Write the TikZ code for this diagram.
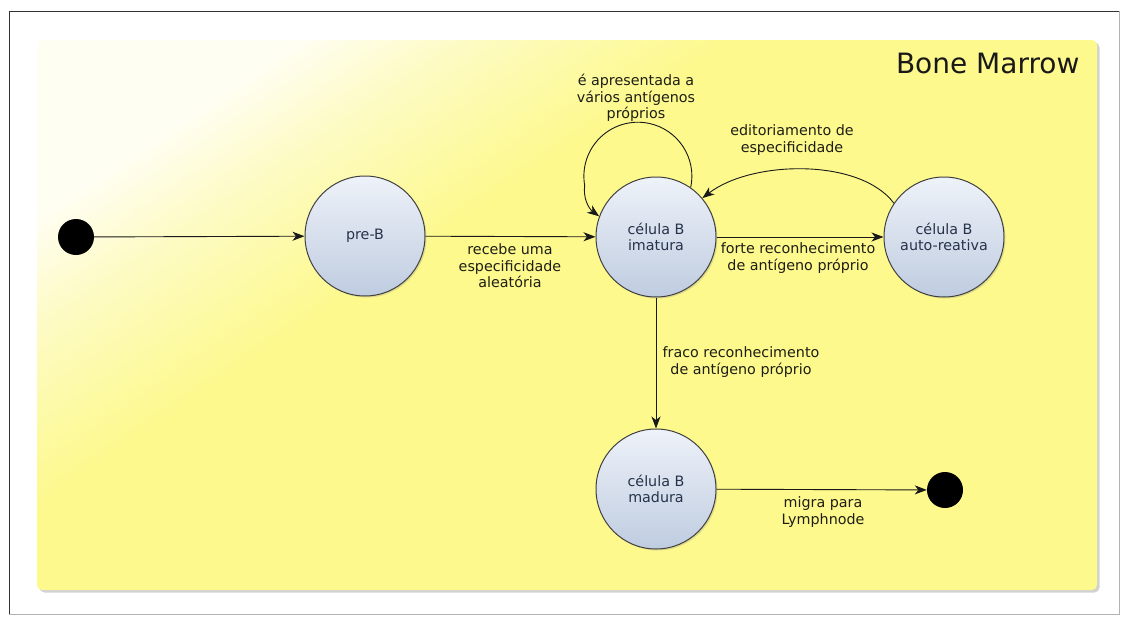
\documentclass[tikz,border=0pt]{standalone}
\usepackage{fontspec}
\setmainfont{DejaVu Sans}
\usetikzlibrary{arrows.meta,shadows}

\definecolor{marrowyellow}{HTML}{FDF98D}
\definecolor{marrowmid}{HTML}{FDFBC4}
\definecolor{marrowpale}{HTML}{FFFEF2}
\definecolor{celltop}{HTML}{EEF2F9}
\definecolor{cellbottom}{HTML}{BFCCE0}
\definecolor{celltext}{HTML}{26324A}
\definecolor{labeltext}{HTML}{1E1E14}

\pgfdeclarehorizontalshading{marrowshade}{100bp}{%
  color(0bp)=(marrowpale); color(25bp)=(marrowpale);
  color(31bp)=(marrowmid); color(41bp)=(marrowyellow);
  color(100bp)=(marrowyellow)}

\tikzset{
  cell/.style={circle, draw=black!75, line width=1pt, minimum size=120pt,
    inner sep=0pt, top color=celltop, bottom color=cellbottom,
    drop shadow={shadow xshift=1.5pt, shadow yshift=-1.5pt, opacity=0.25},
    text=celltext, align=center, font=\fontsize{14.3}{16.5}\selectfont},
  pseudo/.style={circle, fill=black, minimum size=36pt, inner sep=0pt},
  trans/.style={line width=0.9pt, draw=black!90,
    -{Stealth[length=12pt,width=9pt,inset=3.5pt]}},
  lbl/.style={align=center, text=labeltext, inner sep=0pt,
    font=\fontsize{14.3}{16.5}\selectfont},
}

\begin{document}
\begin{tikzpicture}[x=1pt,y=-1pt]
  \useasboundingbox (0,0) rectangle (1122,616);
  \fill[white] (0,0) rectangle (1122,616);

  % outer frame
  \draw[black!30, line width=0.8pt] (1119,11) -- (1119,614) -- (9,614);
  \draw[black!80, line width=1pt] (9,614) -- (9,11) -- (1119,11);

  % bone marrow region
  \path[rounded corners=5pt, shading=marrowshade, shading angle=-56,
        drop shadow={shadow xshift=2.5pt, shadow yshift=-2.5pt, opacity=0.35}]
    (37,40) rectangle (1097,590);
  \node[anchor=base east, font=\fontsize{28}{30}\selectfont, text=black!90]
    (title) at (1083,73) {Bone Marrow};

  % states
  \node[pseudo] (init) at (76,237) {};
  \node[cell] (preb) at (365,236) {pre-B};
  \node[cell] (imat) at (656,237) {célula B\\imatura};
  \node[cell] (auto) at (944,237) {célula B\\auto-reativa};
  \node[cell] (madu) at (656,489) {célula B\\madura};
  \node[pseudo] (final) at (945,490) {};

  % transitions
  \draw[trans] (init) -- (preb);
  \draw[trans] (preb) -- (imat);
  \draw[trans] (imat) -- (auto);
  \draw[trans] (imat) -- (madu);
  \draw[trans] (madu) -- (final);
  \draw[trans] (auto.146) .. controls (860,158) and (752,160) .. (imat.40);
  \draw[trans] (imat.55) arc[start angle=12, delta angle=-202, radius=54]
    .. controls (583,197) and (588,208) .. (imat.160);

  % transition labels
  \node[lbl] (lpre) at (510,266) {recebe uma\\especificidade\\aleatória};
  \node[lbl] (lauto) at (798,258) {forte reconhecimento\\de antígeno próprio};
  \node[lbl] (lloop) at (636,98) {é apresentada a\\vários antígenos\\próprios};
  \node[lbl] (ledit) at (792,140) {editoriamento de\\especificidade};
  \node[lbl] (lmadu) at (741,362) {fraco reconhecimento\\de antígeno próprio};
  \node[lbl] (lmig) at (823,512) {migra para\\Lymphnode};
\end{tikzpicture}
\end{document}
